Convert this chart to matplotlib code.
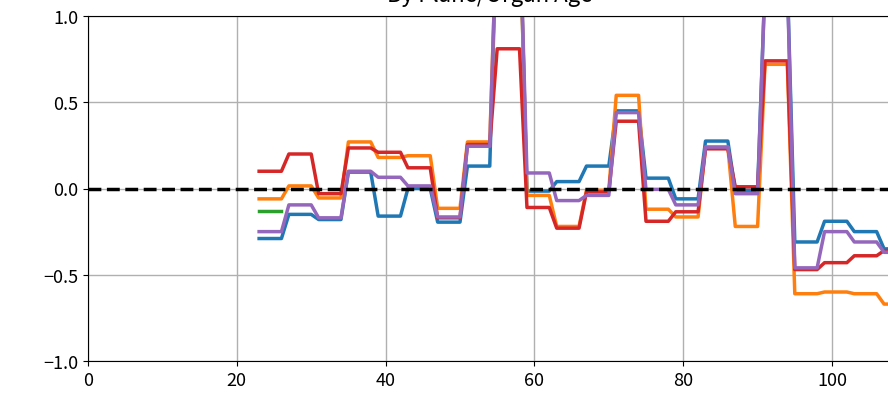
import numpy as np
import matplotlib
matplotlib.use("Agg")
import matplotlib.pyplot as plt

plt.rcParams['font.family'] = ['Noto Sans CJK JP', 'DejaVu Sans']

# 4-year age bins, first age of each bin
bin_start = [23, 27, 31, 35, 39, 43, 47, 51, 55, 59, 63,
             67, 71, 75, 79, 83, 87, 91, 95, 99, 103, 107]
bin_width = 4

nan = np.nan
blue = [-0.29, -0.15, -0.18, 0.095, -0.16, 0.00, -0.195, 0.13, 1.6, -0.015, 0.04,
        0.13, 0.45, 0.06, -0.06, 0.275, -0.01, 1.2, -0.31, -0.19, -0.25, -0.35]
orange = [-0.06, 0.015, -0.055, 0.27, 0.18, 0.19, -0.115, 0.27, 1.6, -0.04, -0.22,
          -0.01, 0.54, -0.12, -0.165, 0.24, -0.22, 0.72, -0.61, -0.60, -0.61, -0.67]
green = [-0.13] + [nan] * 21
red = [0.10, 0.20, -0.03, 0.235, 0.21, 0.12, -0.17, 0.255, 0.81, -0.11, -0.23,
       -0.02, 0.39, -0.19, -0.135, 0.23, 0.01, 0.74, -0.47, -0.43, -0.39, -0.36]
purple = [-0.25, -0.095, -0.17, 0.10, 0.065, 0.015, -0.165, 0.245, 1.6, 0.09, -0.07,
          -0.04, 0.44, -0.005, -0.095, 0.24, -0.03, 1.2, -0.46, -0.25, -0.31, -0.37]

series = [(blue, '#1f77b4'), (orange, '#ff7f0e'), (green, '#2ca02c'),
          (red, '#d62728'), (purple, '#9467bd')]

ages = np.arange(bin_start[0], bin_start[-1] + bin_width)

fig = plt.figure(figsize=(8.88, 4.06), dpi=100)
ax = fig.add_axes([88 / 888, 44 / 406, 108 * 7.44 / 888, 345 / 406])

for vals, col in series:
    ax.plot(ages, np.repeat(vals, bin_width), color=col, lw=2.5)

ax.axhline(0, color='black', ls='--', lw=2.5, zorder=5)

ax.set_xlim(0, 108)
ax.set_ylim(-1, 1)
ax.set_xticks([0, 20, 40, 60, 80, 100])
ax.set_yticks([-1.0, -0.5, 0.0, 0.5, 1.0])
ax.grid(True, color='#b0b0b0', lw=1.0)
ax.set_axisbelow(True)
ax.tick_params(labelsize=13)
ax.set_title('By Plane/Organ Age', fontsize=16, pad=11)

fig.savefig('out.png', dpi=100)
